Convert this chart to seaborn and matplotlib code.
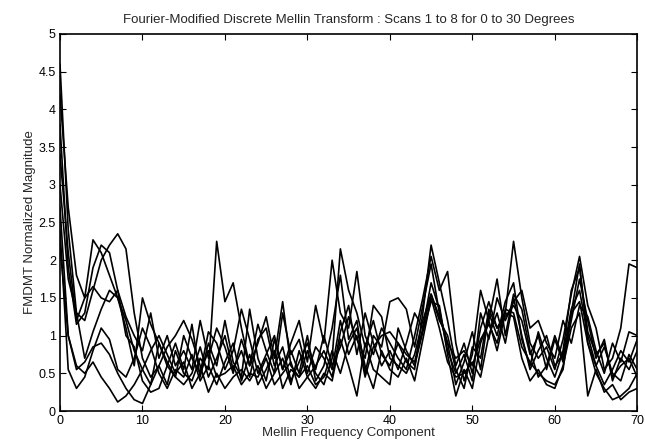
import numpy as np
import pandas as pd
import matplotlib
matplotlib.use("Agg")
import matplotlib.pyplot as plt
import seaborn as sns

# Mellin frequency components 0..70
components = list(range(71))

scan1 = [4.6, 2.4, 1.3, 1.2, 1.6, 2.0, 2.2, 2.35, 2.15, 1.3,
         0.7, 0.45, 0.6, 0.35, 0.8, 0.5, 0.4, 0.7, 0.55, 2.25,
         1.45, 1.7, 1.1, 0.6, 0.9, 1.25, 0.7, 1.45, 0.6, 0.45,
         0.8, 0.5, 0.35, 0.7, 2.15, 1.6, 1.3, 0.85, 1.2, 0.75,
         0.6, 0.9, 0.65, 0.55, 1.3, 2.2, 1.7, 1.2, 0.6, 0.9,
         0.5, 1.1, 1.45, 1.1, 1.3, 2.25, 1.5, 0.9, 0.7, 0.85,
         0.55, 0.95, 1.55, 2.05, 1.4, 1.1, 0.55, 0.7, 1.1, 1.95,
         1.9]
scan2 = [4.2, 2.7, 1.8, 1.5, 2.27, 2.1, 1.8, 1.5, 1.2, 0.8,
         0.55, 0.35, 0.9, 0.6, 0.45, 1.0, 0.7, 0.5, 1.05, 0.9,
         0.55, 0.8, 1.35, 0.95, 0.5, 0.75, 1.0, 0.55, 0.9, 1.2,
         0.65, 1.4, 0.9, 2.0, 1.3, 1.1, 1.85, 1.0, 0.75, 1.1,
         0.9, 0.7, 0.55, 1.0, 1.5, 2.05, 1.6, 1.85, 0.9, 0.4,
         0.75, 1.6, 1.2, 1.75, 1.0, 1.55, 1.35, 0.8, 0.45, 0.6,
         1.0, 0.7, 1.3, 1.95, 0.9, 0.6, 0.35, 0.55, 0.8, 0.65,
         0.95]
scan3 = [3.8, 1.9, 1.15, 1.3, 1.9, 2.2, 2.1, 1.6, 1.0, 0.85,
         0.4, 0.25, 0.3, 0.6, 0.9, 0.55, 1.15, 0.45, 0.9, 0.6,
         1.2, 0.65, 0.45, 1.35, 0.7, 0.4, 0.95, 0.55, 0.8, 0.5,
         1.0, 0.4, 0.6, 1.1, 1.8, 0.95, 1.2, 0.5, 1.0, 0.85,
         1.45, 1.5, 1.35, 0.85, 1.4, 1.95, 1.3, 0.9, 0.35, 0.65,
         1.05, 0.55, 1.3, 1.0, 1.45, 1.7, 0.95, 0.6, 1.05, 0.7,
         0.45, 0.8, 1.6, 1.9, 1.05, 0.75, 0.9, 0.45, 0.6, 0.7,
         0.45]
scan4 = [3.4, 2.1, 1.2, 1.5, 1.65, 1.5, 1.45, 1.6, 1.25, 1.0,
         0.8, 1.3, 0.7, 1.0, 0.6, 0.8, 0.55, 1.2, 0.7, 1.1,
         0.85, 0.5, 0.95, 0.6, 1.15, 0.8, 0.5, 1.3, 0.75, 0.95,
         0.5, 0.85, 0.7, 0.45, 1.05, 1.4, 0.75, 1.3, 0.9, 0.6,
         0.8, 0.55, 0.9, 1.3, 1.1, 1.7, 1.35, 0.8, 0.5, 0.75,
         0.4, 1.3, 0.95, 1.5, 1.2, 1.45, 1.6, 1.1, 1.2, 0.9,
         0.7, 1.2, 0.9, 1.4, 1.25, 0.8, 0.5, 0.9, 0.65, 1.05,
         1.0]
scan5 = [3.0, 1.75, 1.3, 0.7, 1.05, 1.35, 1.6, 1.5, 1.1, 0.6,
         1.5, 1.15, 0.9, 0.65, 0.45, 0.35, 0.5, 0.85, 0.45, 0.7,
         1.0, 0.55, 0.8, 0.45, 0.95, 1.1, 0.6, 0.85, 0.4, 0.65,
         0.9, 0.55, 1.0, 0.6, 0.85, 1.25, 0.95, 0.7, 1.4, 1.25,
         0.7, 0.6, 0.5, 0.75, 1.2, 1.55, 1.2, 1.0, 0.55, 0.3,
         0.85, 0.7, 1.35, 1.1, 1.25, 1.4, 1.2, 0.75, 1.0, 0.55,
         0.95, 0.65, 1.2, 1.75, 1.2, 0.7, 0.95, 0.4, 0.7, 0.55,
         0.8]
scan6 = [2.7, 1.0, 0.55, 0.65, 0.85, 0.9, 0.75, 0.5, 0.3, 0.15,
         0.1, 0.35, 0.6, 0.85, 1.0, 1.2, 0.95, 0.6, 0.25, 0.5,
         0.3, 0.45, 0.55, 0.4, 0.6, 0.3, 0.5, 0.7, 0.35, 0.8,
         0.45, 0.3, 0.5, 0.4, 0.95, 0.6, 0.2, 0.9, 0.55, 0.45,
         0.35, 1.1, 0.8, 0.6, 1.05, 1.45, 1.4, 0.75, 0.2, 0.55,
         0.3, 0.9, 1.2, 0.8, 1.3, 1.25, 0.7, 0.4, 0.55, 0.35,
         0.3, 0.6, 1.1, 1.3, 0.2, 0.55, 0.25, 0.35, 0.15, 0.25,
         0.3]
scan7 = [2.4, 0.55, 0.3, 0.45, 0.8, 1.1, 0.95, 0.55, 0.45, 0.7,
         1.1, 0.85, 0.5, 0.3, 0.55, 0.45, 0.75, 0.4, 0.6, 0.35,
         0.65, 0.9, 0.4, 0.75, 0.35, 0.55, 0.8, 0.3, 0.55, 0.45,
         0.6, 0.35, 0.45, 0.8, 0.5, 0.9, 1.1, 0.6, 0.3, 0.8,
         0.55, 0.45, 0.7, 0.4, 0.95, 1.5, 1.1, 0.65, 0.45, 0.5,
         0.65, 0.45, 1.0, 1.3, 0.9, 1.5, 1.0, 0.55, 0.8, 1.0,
         0.6, 0.75, 1.35, 1.6, 1.0, 0.6, 0.85, 0.5, 0.4, 0.75,
         0.55]
scan8 = [2.2, 1.0, 0.6, 0.5, 0.65, 0.45, 0.3, 0.12, 0.2, 0.35,
         0.55, 0.8, 1.0, 0.75, 0.5, 0.65, 0.3, 0.5, 0.8, 0.45,
         0.5, 0.6, 0.35, 0.5, 0.45, 0.7, 0.35, 0.5, 0.65, 0.3,
         0.45, 0.6, 0.8, 0.55, 1.2, 0.75, 1.0, 0.45, 0.85, 1.0,
         1.05, 0.9, 0.75, 0.65, 1.1, 1.55, 1.25, 0.9, 0.7, 0.8,
         0.6, 0.95, 1.15, 0.9, 1.35, 1.3, 0.85, 0.65, 0.5, 0.4,
         0.35, 0.55, 1.3, 1.45, 0.9, 0.5, 0.3, 0.15, 0.2, 0.3,
         0.5]

scans = [scan1, scan2, scan3, scan4, scan5, scan6, scan7, scan8]
scan_names = [f"Scan {i}" for i in range(1, len(scans) + 1)]

x_ticks = [0, 10, 20, 30, 40, 50, 60, 70]
y_ticks = [0, 0.5, 1, 1.5, 2, 2.5, 3, 3.5, 4, 4.5, 5]
y_tick_labels = ["0", "0.5", "1", "1.5", "2", "2.5", "3", "3.5", "4", "4.5", "5"]

frames = []
for name, vals in zip(scan_names, scans):
    frames.append(pd.DataFrame({"component": components, "magnitude": vals, "scan": name}))
df = pd.concat(frames, ignore_index=True)

sns.set_style("ticks")
plt.rcParams["font.family"] = ["Liberation Sans", "DejaVu Sans"]

fig = plt.figure(figsize=(6.45, 4.47), dpi=100)
ax = fig.add_axes([0.093, 0.0805, 0.895, 0.8435])

sns.lineplot(data=df, x="component", y="magnitude", units="scan", estimator=None,
             color="black", linewidth=1.2, ax=ax, legend=False)

ax.set_xlim(0, 70)
ax.set_ylim(0, 5)
ax.set_xticks(x_ticks)
ax.set_xticklabels([str(t) for t in x_ticks])
ax.set_yticks(y_ticks)
ax.set_yticklabels(y_tick_labels)

for side in ["top", "right", "left", "bottom"]:
    ax.spines[side].set_visible(True)
    ax.spines[side].set_color("black")
    ax.spines[side].set_linewidth(1.2)

ax.tick_params(direction="in", top=True, right=True, length=4, width=0.8,
               labelsize=9, colors="black", pad=3)

ax.set_title("Fourier-Modified Discrete Mellin Transform : Scans 1 to 8 for 0 to 30 Degrees",
             fontsize=9.5, pad=8)
ax.set_xlabel("Mellin Frequency Component", fontsize=9.5, labelpad=0)
ax.set_ylabel("FMDMT Normalized Magnitude", fontsize=9.5, labelpad=2)

fig.savefig("out.png", dpi=100, facecolor="white")
